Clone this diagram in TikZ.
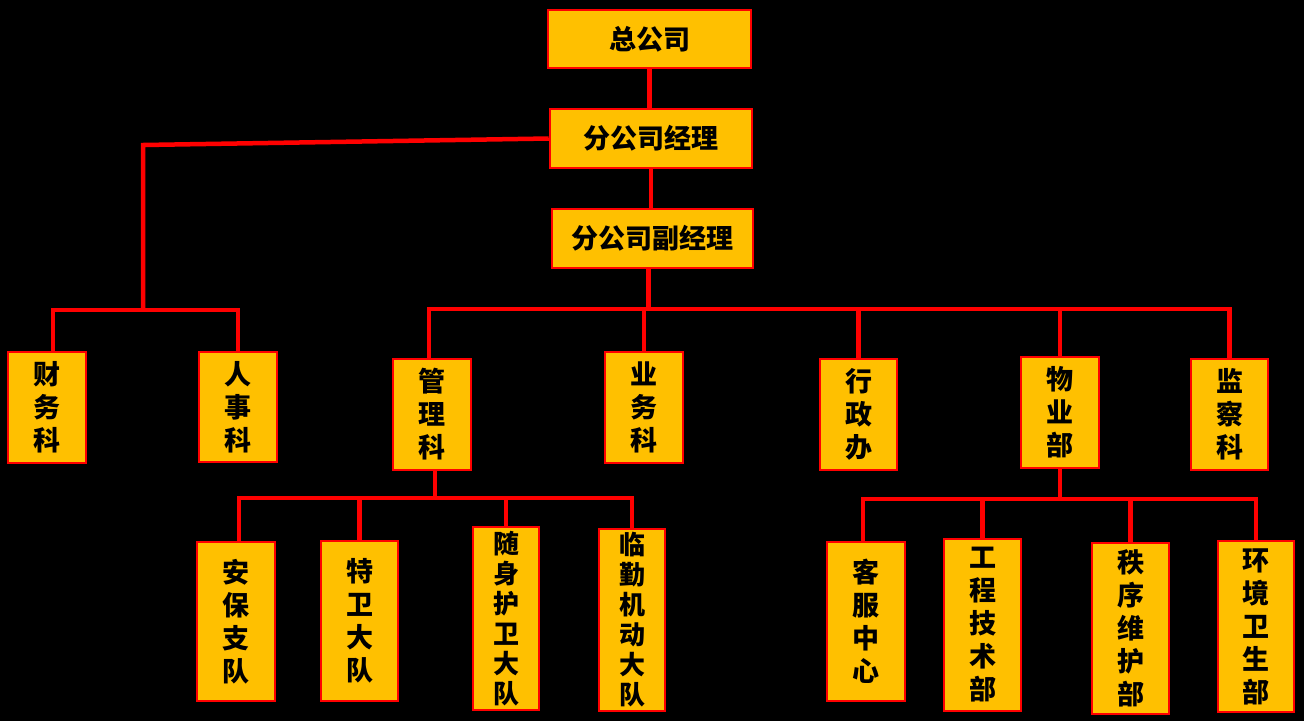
\documentclass[tikz,border=0pt]{standalone}
\usepackage{fontspec}
\newfontfamily\cjk{Noto Sans CJK SC}
\definecolor{boxor}{HTML}{FFC000}
\definecolor{lnred}{HTML}{FF0000}
\begin{document}
\begin{tikzpicture}[x=1pt,y=-1pt,
  box/.style={draw=lnred, fill=boxor, line width=2.5pt, inner sep=0pt, align=center, text=black,
    font=\cjk\bfseries\fontsize{27}{33}\selectfont},
  tall/.style={box, font=\cjk\bfseries\fontsize{26}{30}\selectfont},
  conn/.style={draw=lnred, line width=4.5pt, line join=miter}]
\fill[black] (0,0) rectangle (1304,721);
\useasboundingbox (0,0) rectangle (1304,721);
% top chain
\node[box, minimum width=203pt, minimum height=58pt] (zgs) at (649.5,39) {总公司};
\node[box, minimum width=202pt, minimum height=59pt] (fjl) at (651,138.5) {分公司经理};
\node[box, minimum width=201pt, minimum height=59pt] (fgjl) at (652.5,238.5) {分公司副经理};
% second level
\node[box, minimum width=78pt, minimum height=111pt] (cw) at (47,407.5) {财\\务\\科};
\node[box, minimum width=78pt, minimum height=110pt] (rs) at (238,407) {人\\事\\科};
\node[box, minimum width=78pt, minimum height=111pt] (gl) at (432,414.5) {管\\理\\科};
\node[box, minimum width=78pt, minimum height=111pt] (yw) at (644,407.5) {业\\务\\科};
\node[box, minimum width=77pt, minimum height=111pt] (xz) at (858.5,414.5) {行\\政\\办};
\node[box, minimum width=78pt, minimum height=111pt] (wy) at (1060,412.5) {物\\业\\部};
\node[box, minimum width=77pt, minimum height=111pt] (jc) at (1229.5,414.5) {监\\察\\科};
% third level left
\node[box, minimum width=78pt, minimum height=159pt] (ab) at (236,621.5) {安\\保\\支\\队};
\node[box, minimum width=77pt, minimum height=160pt] (tw) at (359.5,621) {特\\卫\\大\\队};
\node[tall, minimum width=66pt, minimum height=183pt] (sshw) at (506,618.5) {随\\身\\护\\卫\\大\\队};
\node[tall, minimum width=66pt, minimum height=182pt] (lq) at (632,620) {临\\勤\\机\\动\\大\\队};
% third level right
\node[box, minimum width=78pt, minimum height=159pt] (kf) at (866,621.5) {客\\服\\中\\心};
\node[box, minimum width=77pt, minimum height=172pt] (gc) at (982.5,625) {工\\程\\技\\术\\部};
\node[box, minimum width=77pt, minimum height=171pt] (zx) at (1130.5,628.5) {秩\\序\\维\\护\\部};
\node[box, minimum width=76pt, minimum height=171pt] (hj) at (1256,626.5) {环\\境\\卫\\生\\部};
% bus coordinates
\coordinate (a1) at (143,145);
\coordinate (lb) at (143,310);
\coordinate (hb) at (800,309);
\coordinate (lbar) at (435,498);
\coordinate (rbar) at (1058,499);
% connectors
\draw[conn] (zgs.south) -- (zgs.south |- fjl.north);
\draw[conn] (fjl.south) -- (fjl.south |- fgjl.north);
\draw[conn] (fjl.west) -- (a1) -- (lb);
\draw[conn] (cw.north) ++(6,0) |- (lb) -| (rs.north);
\draw[conn] (fgjl.south) ++(-4,0) -- ++(0,41);
\draw[conn] (gl.north) ++(-3,0) |- (hb) -| (jc.north);
\draw[conn] (yw.north) -- (yw.north |- hb);
\draw[conn] (xz.north) -- (xz.north |- hb);
\draw[conn] (wy.north) -- (wy.north |- hb);
\draw[conn] (gl.south) ++(3,0) -- ++(0,28);
\draw[conn] (ab.north) ++(3,0) |- (lbar) -| (lq.north);
\draw[conn] (tw.north) -- (tw.north |- lbar);
\draw[conn] (sshw.north) -- (sshw.north |- lbar);
\draw[conn] (wy.south) -- (wy.south |- rbar);
\draw[conn] (kf.north) ++(-3,0) |- (rbar) -| (hj.north);
\draw[conn] (gc.north) -- (gc.north |- rbar);
\draw[conn] (zx.north) -- (zx.north |- rbar);
\end{tikzpicture}
\end{document}
